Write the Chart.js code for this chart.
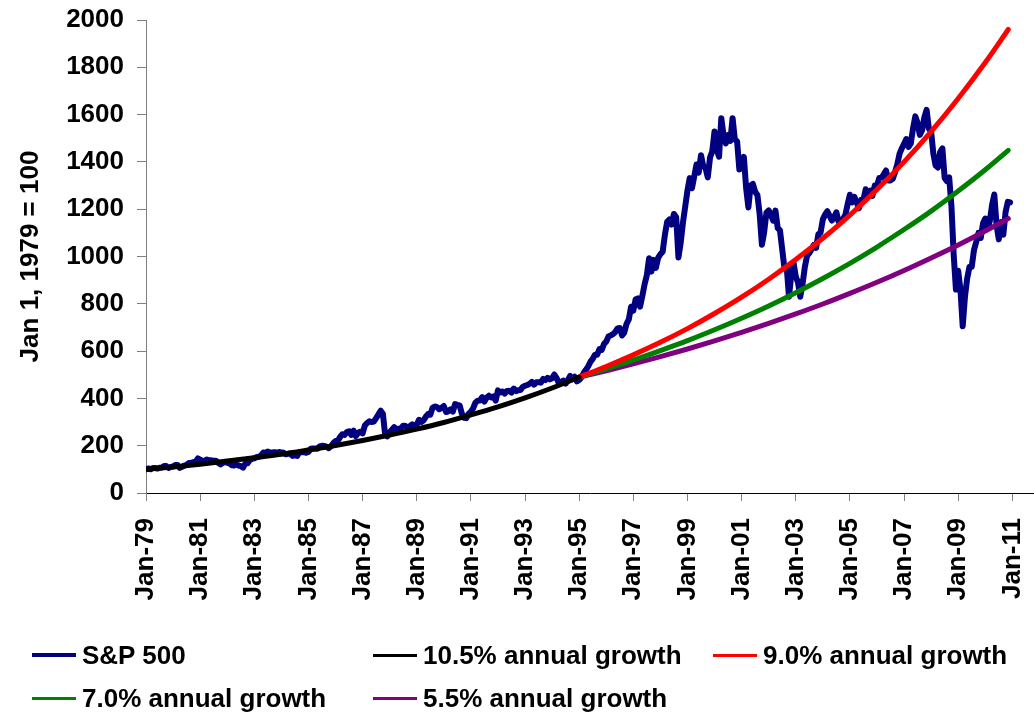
<!DOCTYPE html>
<html>
<head>
<meta charset="utf-8">
<script src="https://cdn.jsdelivr.net/npm/chart.js@4.4.1/dist/chart.umd.min.js"></script>
<style>
  html, body { margin: 0; padding: 0; background: #fff; }
  #wrap { position: relative; width: 1034px; height: 712px; overflow: hidden; }
  #chart { position: absolute; left: 0; top: 0; }
  .leg { position: absolute; display: flex; align-items: center; height: 30px;
         font: bold 26px "Liberation Sans", Arial, sans-serif; color: #000; white-space: nowrap; }
  .leg i { display: inline-block; width: 44px; margin-right: 6px; }
</style>
</head>
<body>
<div id="wrap">
  <canvas id="chart" width="1034" height="712"></canvas>
</div>
<script>
// S&P 500, rebased Jan 1 1979 = 100, first value at Jan 1 1979 then month ends to Nov 2010
const spStart = 1979;
const spValues = [
  100, 104.0, 100.2, 105.7, 105.9, 103.1, 107.1, 108.0, 113.7, 113.7, 105.9, 110.5, 112.3,
  118.8, 118.3, 106.2, 110.6, 115.7, 118.9, 126.6, 127.3, 130.5, 132.6, 146.2, 141.3,
  134.8, 136.6, 141.5, 138.2, 138.0, 136.5, 136.2, 127.8, 120.9, 126.8, 131.5, 127.5,
  125.3, 117.7, 116.5, 121.2, 116.4, 114.0, 107.0, 124.4, 125.3, 139.1, 144.2, 146.3,
  151.2, 154.1, 159.2, 171.1, 169.0, 174.9, 169.1, 171.1, 172.8, 170.2, 173.1, 171.6,
  170.0, 163.4, 165.6, 166.5, 156.6, 159.4, 156.8, 173.4, 172.8, 172.8, 170.2, 174.0,
  186.9, 188.5, 188.0, 187.1, 197.2, 199.6, 198.7, 196.3, 189.5, 197.5, 210.4, 219.8,
  220.4, 236.1, 248.6, 245.1, 257.4, 261.0, 245.7, 263.2, 240.7, 253.9, 259.3, 252.0,
  285.2, 295.7, 303.5, 300.0, 301.9, 316.3, 331.6, 348.0, 334.9, 245.0, 239.6, 257.1,
  267.5, 278.7, 269.4, 271.9, 272.8, 284.6, 283.0, 272.1, 282.9, 290.3, 284.8, 289.0,
  309.5, 300.6, 306.8, 322.2, 333.5, 330.9, 360.1, 365.7, 363.3, 354.1, 360.0, 367.7,
  342.4, 345.3, 353.7, 344.2, 375.9, 372.5, 370.6, 335.6, 318.4, 316.3, 335.3, 343.6,
  357.9, 381.9, 390.4, 390.6, 405.6, 386.2, 403.5, 411.4, 403.6, 408.4, 390.4, 434.0,
  425.3, 429.4, 420.0, 431.8, 432.2, 424.7, 441.4, 430.8, 434.7, 435.6, 448.8, 453.4,
  456.6, 461.3, 470.0, 458.0, 468.4, 468.8, 466.3, 482.3, 477.5, 486.8, 480.5, 485.3,
  501.1, 486.1, 463.8, 469.2, 475.0, 462.3, 476.8, 494.7, 481.4, 491.5, 472.1, 477.9,
  489.5, 507.1, 521.0, 535.6, 555.0, 566.8, 584.8, 584.6, 608.1, 605.1, 629.9, 640.9,
  661.8, 666.4, 671.6, 680.7, 696.2, 697.8, 665.9, 678.4, 715.2, 733.8, 787.7, 770.7,
  818.0, 822.8, 787.8, 833.8, 882.6, 921.0, 992.9, 935.9, 985.6, 951.7, 994.1, 1009.7,
  1020.0, 1091.8, 1146.4, 1156.8, 1135.0, 1179.8, 1166.1, 996.0, 1058.2, 1143.2, 1210.8, 1279.0,
  1331.5, 1288.5, 1338.5, 1389.3, 1354.6, 1428.3, 1382.5, 1373.9, 1334.7, 1418.1, 1445.2, 1528.8,
  1450.9, 1421.8, 1585.0, 1511.3, 1478.1, 1513.5, 1488.8, 1585.0, 1494.7, 1487.3, 1368.2, 1373.8,
  1421.3, 1290.2, 1207.3, 1300.1, 1306.7, 1274.0, 1260.3, 1179.5, 1050.0, 1102.7, 1185.6, 1194.6,
  1176.0, 1151.6, 1193.9, 1120.5, 1110.4, 1029.9, 948.5, 953.2, 830.0, 921.6, 974.2, 915.5,
  890.4, 830.0, 882.5, 954.1, 1002.6, 1014.0, 1030.4, 1048.8, 1036.3, 1093.3, 1101.1, 1156.9,
  1176.9, 1191.3, 1171.8, 1152.1, 1166.1, 1187.0, 1146.3, 1148.9, 1159.7, 1176.0, 1221.4, 1261.0,
  1229.1, 1252.3, 1228.4, 1203.7, 1239.8, 1239.6, 1284.2, 1269.8, 1278.6, 1255.9, 1300.1, 1298.8,
  1331.9, 1332.5, 1347.3, 1363.7, 1321.5, 1321.7, 1328.4, 1356.6, 1390.0, 1433.7, 1457.4, 1475.7,
  1496.5, 1463.8, 1478.4, 1542.4, 1592.6, 1564.2, 1514.2, 1533.7, 1588.6, 1620.0, 1541.1, 1527.8,
  1434.4, 1384.5, 1376.3, 1441.7, 1457.1, 1331.8, 1318.7, 1334.8, 1213.6, 1008.0, 860.0, 939.8,
  859.3, 705.0, 830.2, 908.2, 956.4, 956.6, 1027.5, 1062.0, 1099.9, 1078.2, 1140.0, 1160.3,
  1117.4, 1149.2, 1216.8, 1262.0, 1133.5, 1072.5, 1146.2, 1091.8, 1187.4, 1231.2, 1228.4
];

// trend lines, read at each Jan 1
const earlyYears = [1979, 1980, 1981, 1982, 1983, 1984, 1985, 1986, 1987, 1988, 1989, 1990, 1991, 1992, 1993, 1994, 1995];
const black105 = [100, 110, 122, 135, 149, 164, 182, 201, 222, 245, 270, 298, 330, 364, 402, 444, 490];
const lateYears = [1995, 1996, 1997, 1998, 1999, 2000, 2001, 2002, 2003, 2004, 2005, 2006, 2007, 2008, 2009, 2010, 2010.85];
const red90 = [490, 535, 584, 637, 695, 759, 828, 904, 987, 1077, 1175, 1283, 1400, 1528, 1668, 1820, 1960];
const green70 = [490, 525, 562, 602, 644, 690, 739, 791, 847, 907, 971, 1040, 1114, 1192, 1277, 1367, 1449];
const purple55 = [490, 517, 546, 577, 609, 643, 679, 717, 757, 799, 844, 891, 941, 994, 1049, 1108, 1160];

const yTicks = [0, 200, 400, 600, 800, 1000, 1200, 1400, 1600, 1800, 2000];
const xTickYears = [1979, 1981, 1983, 1985, 1987, 1989, 1991, 1993, 1995, 1997, 1999, 2001, 2003, 2005, 2007, 2009, 2011];

const pairs = (xs, ys) => ys.map((y, i) => ({ x: xs[i], y: y }));
const FONT = "'Liberation Sans', Arial, sans-serif";

const datasets = [
  { label: "S&P 500", data: spValues.map((v, i) => ({ x: spStart + i / 12, y: v })),
    borderColor: "#000080", borderWidth: 6, tension: 0, order: 5, legendWidth: 4 },
  { label: "10.5% annual growth", data: pairs(earlyYears, black105),
    borderColor: "#000000", borderWidth: 5, cubicInterpolationMode: "monotone", order: 1, legendWidth: 3 },
  { label: "9.0% annual growth", data: pairs(lateYears, red90),
    borderColor: "#FF0000", borderWidth: 5, cubicInterpolationMode: "monotone", order: 1, legendWidth: 3 },
  { label: "7.0% annual growth", data: pairs(lateYears, green70),
    borderColor: "#008000", borderWidth: 5, cubicInterpolationMode: "monotone", order: 1, legendWidth: 3 },
  { label: "5.5% annual growth", data: pairs(lateYears, purple55),
    borderColor: "#800080", borderWidth: 5, cubicInterpolationMode: "monotone", order: 1, legendWidth: 3 }
];
datasets.forEach(d => { d.pointRadius = 0; d.fill = false; d.borderCapStyle = "round"; d.borderJoinStyle = "round"; });

new Chart(document.getElementById("chart"), {
  type: "line",
  data: { datasets: datasets },
  options: {
    responsive: false,
    animation: false,
    devicePixelRatio: 1,
    layout: { padding: { top: 20, right: 0, bottom: 0, left: 0 } },
    plugins: { legend: { display: false }, tooltip: { enabled: false } },
    scales: {
      x: {
        type: "linear",
        min: 1979,
        max: 2011.8,
        afterFit: s => { s.height = 219; s.paddingLeft = 0; s.paddingRight = 0; },
        afterBuildTicks: s => { s.ticks = xTickYears.map(v => ({ value: v })); },
        grid: { drawOnChartArea: false, tickLength: 8, color: "#808080" },
        border: { color: "#000", width: 1 },
        ticks: {
          autoSkip: false, maxRotation: 90, minRotation: 90, padding: 17,
          color: "#000", font: { family: FONT, size: 26, weight: "bold" },
          callback: v => "Jan-" + String(v % 100).padStart(2, "0")
        }
      },
      y: {
        min: 0,
        max: 2000,
        afterFit: s => { s.width = 146; s.paddingTop = 0; s.paddingBottom = 0; },
        afterBuildTicks: s => { s.ticks = yTicks.map(v => ({ value: v })); },
        grid: { drawOnChartArea: false, tickLength: 9, color: "#808080" },
        border: { color: "#808080", width: 1 },
        ticks: { padding: 13, color: "#000", font: { family: FONT, size: 26, weight: "bold" },
                 callback: v => String(v) },
        title: {
          display: true, text: "Jan 1, 1979 = 100", color: "#000",
          font: { family: FONT, size: 26, weight: "bold" }, padding: { top: 15, bottom: 0 }
        }
      }
    }
  }
});

// legend laid out in columns like the original
const legendSpots = [[32, 640], [373, 640], [713, 640], [32, 683], [373, 683]];
const wrap = document.getElementById("wrap");
datasets.forEach((d, i) => {
  const item = document.createElement("div");
  item.className = "leg";
  item.style.left = legendSpots[i][0] + "px";
  item.style.top = legendSpots[i][1] + "px";
  const mark = document.createElement("i");
  mark.style.height = d.legendWidth + "px";
  mark.style.background = d.borderColor;
  item.appendChild(mark);
  item.appendChild(document.createTextNode(d.label));
  wrap.appendChild(item);
});
</script>
</body>
</html>
